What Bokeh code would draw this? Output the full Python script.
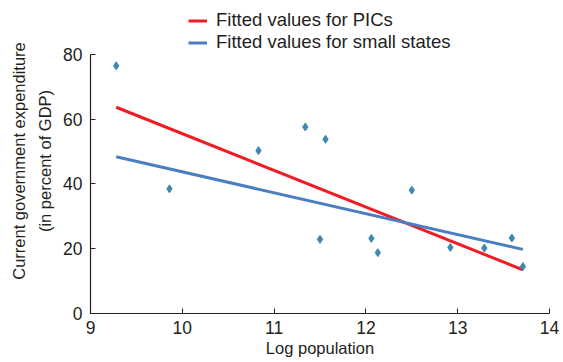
from bokeh.plotting import figure
from bokeh.models import Range1d, Legend, LegendItem, FixedTicker
from bokeh.embed import file_html
from bokeh.resources import INLINE

# Scatter data (log population, expenditure % of GDP)
log_pop = [9.28, 9.86, 10.83, 11.34, 11.56, 11.50, 12.06, 12.13, 12.50, 12.92, 13.29, 13.59, 13.71]
expenditure = [76.5, 38.5, 50.3, 57.6, 53.8, 22.9, 23.2, 18.8, 38.1, 20.4, 20.2, 23.3, 14.5]

# Fitted lines
fit_x = [9.28, 13.71]
fit_pics = [63.7, 13.5]
fit_small = [48.4, 19.8]

x_ticks = [9, 10, 11, 12, 13, 14]
y_ticks = [0, 20, 40, 60, 80]

FONT = "Liberation Sans"
TXT = "#231f20"

# frame extends above 80 to host the legend; axis itself is bounded to 0-80
p = figure(width=563, height=362, output_backend="svg", toolbar_location=None,
           x_range=Range1d(9, 14), y_range=Range1d(0, 94.2),
           min_border_left=90, min_border_right=14, min_border_top=8, min_border_bottom=49)
p.outline_line_color = None
p.grid.visible = False
p.background_fill_color = "white"
p.border_fill_color = "white"

r_red = p.line(fit_x, fit_pics, line_color="#ee1c25", line_width=3)
r_blue = p.line(fit_x, fit_small, line_color="#4a7ec0", line_width=3)
p.scatter(log_pop, expenditure, marker="diamond", size=8, fill_color="#3d88b0", line_color="#3d88b0")

for ax in (p.xaxis[0], p.yaxis[0]):
    ax.axis_line_color = TXT
    ax.axis_line_width = 1.2
    ax.major_tick_line_color = TXT
    ax.major_tick_in = 5
    ax.major_tick_out = 0
    ax.minor_tick_line_color = None
    ax.major_label_text_font = FONT
    ax.major_label_text_font_size = "17.5px"
    ax.major_label_text_color = TXT
    ax.axis_label_text_font = FONT
    ax.axis_label_text_font_size = "16.5px"
    ax.axis_label_text_font_style = "normal"
    ax.axis_label_text_color = TXT

p.xaxis.ticker = FixedTicker(ticks=x_ticks)
p.yaxis.ticker = FixedTicker(ticks=y_ticks)
p.yaxis.bounds = (0, 80)
p.xaxis.axis_label = "Log population"
p.yaxis.axis_label = "Current government expenditure\n(in percent of GDP)"
p.yaxis.axis_label_text_line_height = 1.45
p.xaxis.major_label_standoff = 7
p.yaxis.major_label_standoff = 8
p.xaxis.axis_label_standoff = 2
p.yaxis.axis_label_standoff = 6

legend = Legend(items=[LegendItem(label="Fitted values for PICs", renderers=[r_red]),
                       LegendItem(label="Fitted values for small states", renderers=[r_blue])],
                location=(98, 260), orientation="vertical",
                padding=0, margin=0, spacing=0,
                label_height=21, glyph_height=21, glyph_width=19, label_standoff=9,
                label_text_font=FONT, label_text_font_size="18.5px", label_text_color=TXT,
                border_line_color=None, background_fill_alpha=0)
p.add_layout(legend, "center")

open("out.html", "w").write(file_html(p, INLINE))
